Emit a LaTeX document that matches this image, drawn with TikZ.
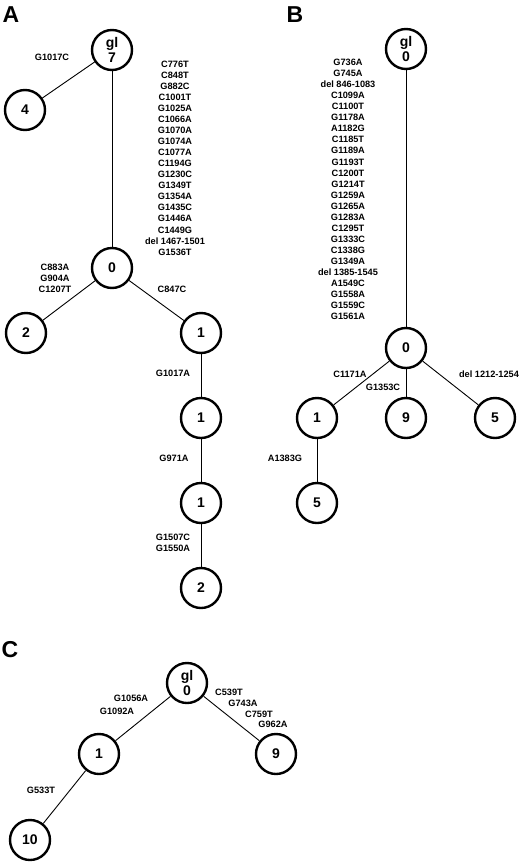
\documentclass[tikz,border=0pt]{standalone}
\usepackage{fontspec}
\setmainfont{Liberation Sans}
\begin{document}
\begin{tikzpicture}[x=1pt,y=-1pt,
  hap/.style={circle,draw,line width=2.4pt,minimum size=40pt,inner sep=0pt,font=\bfseries\fontsize{14}{15}\selectfont,align=center},
  mut/.style={inner sep=0pt,align=center,font=\bfseries\fontsize{9.2}{11.06}\selectfont},
  panel/.style={inner sep=0pt,font=\bfseries\fontsize{23}{23}\selectfont},
  link/.style={line width=0.9pt}]
\useasboundingbox (0,0) rectangle (520,865);
% panel labels
\node[panel] (pA) at (11,15) {A};
\node[panel] (pB) at (295,15) {B};
\node[panel] (pC) at (10,650) {C};
% ---------- A ----------
\node[hap] (Agl) at (112,50) {gl\\7};
\node[hap] (A4) at (25,110) {4};
\node[hap] (A0) at (112,268) {0};
\node[hap] (A2) at (26,333) {2};
\node[hap] (A1a) at (201,333) {1};
\node[hap] (A1b) at (201,418) {1};
\node[hap] (A1c) at (201,503) {1};
\node[hap] (A2b) at (201,588) {2};
\draw[link] (Agl) -- (A4);
\draw[link] (Agl) -- (A0);
\draw[link] (A0) -- (A2);
\draw[link] (A0) -- (A1a);
\draw[link] (A1a) -- (A1b);
\draw[link] (A1b) -- (A1c);
\draw[link] (A1c) -- (A2b);
\node[mut] (mA1) at (52,57) {G1017C};
\node[mut] (mA2) at (175,158) {C776T\\C848T\\G882C\\C1001T\\G1025A\\C1066A\\G1070A\\G1074A\\C1077A\\C1194G\\G1230C\\G1349T\\G1354A\\G1435C\\G1446A\\C1449G\\del 1467-1501\\G1536T};
\node[mut] (mA3) at (55,278) {C883A\\G904A\\C1207T};
\node[mut] (mA4) at (172,289) {C847C};
\node[mut] (mA5) at (173,373) {G1017A};
\node[mut] (mA6) at (174,458) {G971A};
\node[mut] (mA7) at (173,542.5) {G1507C\\G1550A};
% ---------- B ----------
\node[hap] (Bgl) at (406,49) {gl\\0};
\node[hap] (B0) at (406,348) {0};
\node[hap] (B1) at (317,418) {1};
\node[hap] (B9) at (406,418) {9};
\node[hap] (B5r) at (495,418) {5};
\node[hap] (B5) at (317,503) {5};
\draw[link] (Bgl) -- (B0);
\draw[link] (B0) -- (B1);
\draw[link] (B0) -- (B9);
\draw[link] (B0) -- (B5r);
\draw[link] (B1) -- (B5);
\node[mut] (mB1) at (348,189.5) {G736A\\G745A\\del 846-1083\\C1099A\\C1100T\\G1178A\\A1182G\\C1185T\\G1189A\\G1193T\\C1200T\\G1214T\\G1259A\\G1265A\\G1283A\\C1295T\\G1333C\\C1338G\\G1349A\\del 1385-1545\\A1549C\\G1558A\\G1559C\\G1561A};
\node[mut] (mB2) at (350,374) {C1171A};
\node[mut] (mB3) at (383,387) {G1353C};
\node[mut] (mB4) at (489,374) {del 1212-1254};
\node[mut] (mB5) at (285,458) {A1383G};
% ---------- C ----------
\node[hap] (Cgl) at (187,683) {gl\\0};
\node[hap] (C1) at (99,754) {1};
\node[hap] (C9) at (276,754) {9};
\node[hap] (C10) at (30,840) {10};
\draw[link] (Cgl) -- (C1);
\draw[link] (Cgl) -- (C9);
\draw[link] (C1) -- (C10);
\node[mut] (mC1) at (131,698) {G1056A};
\node[mut] (mC2) at (117,711) {G1092A};
\node[mut] (mC3) at (229,692) {C539T};
\node[mut] (mC4) at (243,703) {G743A};
\node[mut] (mC5) at (259,714) {C759T};
\node[mut] (mC6) at (273,724) {G962A};
\node[mut] (mC7) at (41,790) {G533T};
\end{tikzpicture}
\end{document}
